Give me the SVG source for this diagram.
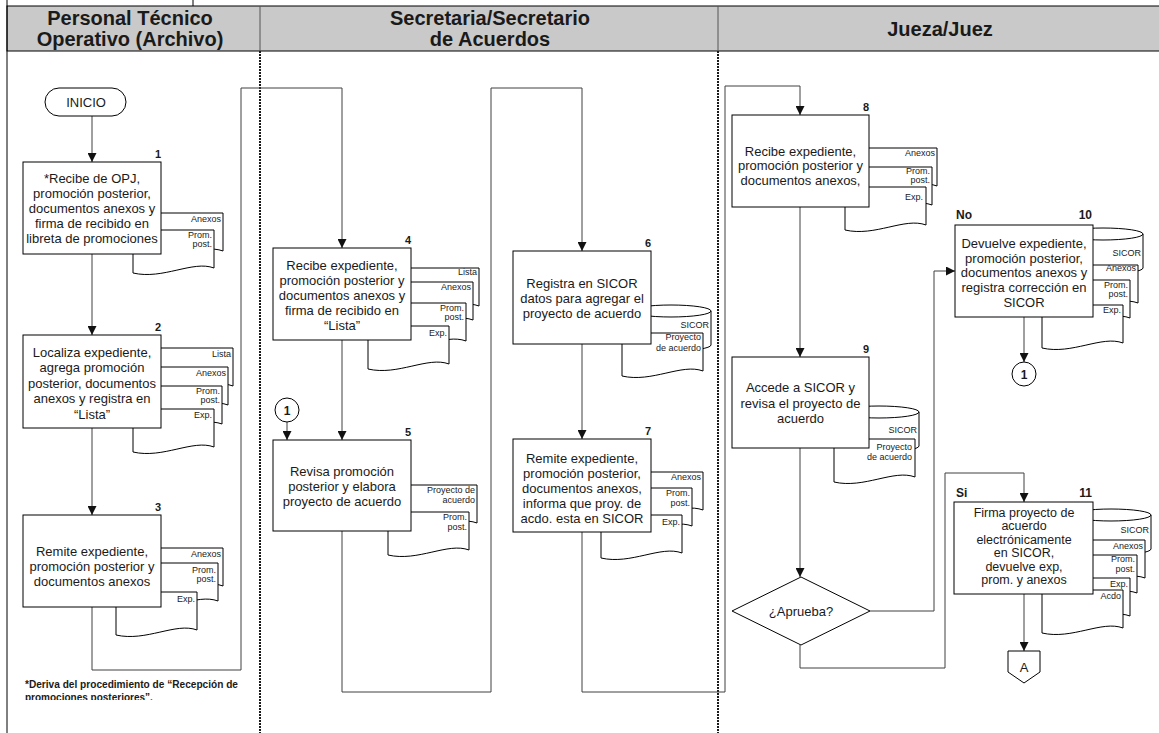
<svg xmlns="http://www.w3.org/2000/svg" xmlns:xlink="http://www.w3.org/1999/xlink" width="1159" height="733" viewBox="0 0 1159 733">
  <style>
    text { font-family: "Liberation Sans", Arial, sans-serif; fill: #1a1a1a; }
    .hdr { font-size: 20px; font-weight: bold; text-anchor: middle; }
    .t { font-size: 13px; text-anchor: middle; }
    .ts { font-size: 12.5px; text-anchor: middle; }
    .lbl { font-size: 9px; text-anchor: end; }
    .num { font-size: 11px; font-weight: bold; text-anchor: end; }
    .tag { font-size: 12px; font-weight: bold; }
    .note { font-size: 10px; font-weight: bold; }
    .box { fill: #fff; stroke: #000; stroke-width: 1; }
    .doc { fill: #fff; stroke: #000; stroke-width: 1; }
    .conn { fill: none; stroke: #404040; stroke-width: 1; }
    .lane { stroke: #1a1a1a; stroke-width: 2; stroke-dasharray: 2 1; }
  </style>
  <defs>
    <marker id="arr" viewBox="0 0 10 10" refX="10" refY="5" markerWidth="9" markerHeight="9" markerUnits="userSpaceOnUse" orient="auto">
      <path d="M0 0 L10 5 L0 10 Z" fill="#111"/>
    </marker>
    <!-- paper document with wavy bottom -->
    <path id="doc" d="M0 0 H81 V38 C60 30 30 50 0 43 Z"/>
    <!-- database cylinder -->
    <path id="db" d="M0 6 A40 6 0 0 1 80 6 V40 A40 6 0 0 1 0 40 Z M0 6 A40 6 0 0 0 80 6"/>
    <clipPath id="noteClip"><rect x="0" y="0" width="260" height="700"/></clipPath>
  </defs>

  <!-- frame and swimlane header -->
  <g id="frame">
    <line x1="193" y1="0" x2="193" y2="6" stroke="#000"/>
    <rect x="7" y="6" width="1160" height="45" fill="#c9c9c9" stroke="#000"/>
    <line x1="260" y1="6" x2="260" y2="51" stroke="#555"/>
    <line x1="718" y1="6" x2="718" y2="51" stroke="#555"/>
    <line x1="7" y1="0" x2="7" y2="733" stroke="#000"/>
    <line class="lane" x1="260" y1="51" x2="260" y2="733"/>
    <line class="lane" x1="718" y1="51" x2="718" y2="733"/>
    <text class="hdr" x="130" y="25">Personal Técnico</text>
    <text class="hdr" x="130" y="46">Operativo (Archivo)</text>
    <text class="hdr" x="490" y="25">Secretaria/Secretario</text>
    <text class="hdr" x="490" y="46">de Acuerdos</text>
    <text class="hdr" x="940" y="36">Jueza/Juez</text>
  </g>

  <!-- connectors -->
  <g id="connectors">
    <path class="conn" d="M92 116 V162" marker-end="url(#arr)"/>
    <path class="conn" d="M92 254 V335" marker-end="url(#arr)"/>
    <path class="conn" d="M92 428 V515" marker-end="url(#arr)"/>
    <path class="conn" d="M92 607 V670 H241 V88 H342 V248" marker-end="url(#arr)"/>
    <path class="conn" d="M342 340 V440" marker-end="url(#arr)"/>
    <path class="conn" d="M287 422 V440" marker-end="url(#arr)"/>
    <path class="conn" d="M342 531 V692 H491 V88 H582 V251" marker-end="url(#arr)"/>
    <path class="conn" d="M582 344 V439" marker-end="url(#arr)"/>
    <path class="conn" d="M582 532 V692 H725 V86 H800 V115" marker-end="url(#arr)"/>
    <path class="conn" d="M800 207 V357" marker-end="url(#arr)"/>
    <path class="conn" d="M800 448 V577" marker-end="url(#arr)"/>
    <path class="conn" d="M870 611 H934 V271 H955" marker-end="url(#arr)"/>
    <path class="conn" d="M800 645 V668 H945 V473 H1024 V502" marker-end="url(#arr)"/>
    <path class="conn" d="M1024 317 V362" marker-end="url(#arr)"/>
    <path class="conn" d="M1024 594 V651" marker-end="url(#arr)"/>
  </g>

  <g id="inicio">
    <rect class="box" x="45" y="88" width="81" height="28" rx="14" ry="14"/>
    <text class="t" x="86" y="107">INICIO</text>
  </g>

  <g id="step1">
    <use href="#doc" class="doc" x="142" y="213"/>
    <use href="#doc" class="doc" x="133" y="230"/>
    <text class="lbl" x="221" y="222">Anexos</text>
    <text class="lbl" x="212" y="238">Prom.</text>
    <text class="lbl" x="212" y="247">post.</text>
    <rect class="box" x="23" y="162" width="138" height="92"/>
    <text class="num" x="161" y="158">1</text>
    <text class="t" x="92" y="182.5">*Recibe de OPJ,</text>
    <text class="t" x="92" y="197.7">promoción posterior,</text>
    <text class="t" x="92" y="212.9">documentos anexos y</text>
    <text class="t" x="92" y="228.1">firma de recibido en</text>
    <text class="t" x="92" y="243.3">libreta de promociones</text>
  </g>

  <g id="step2">
    <use href="#doc" class="doc" x="152" y="348"/>
    <use href="#doc" class="doc" x="147" y="367"/>
    <use href="#doc" class="doc" x="141" y="386"/>
    <use href="#doc" class="doc" x="133" y="409"/>
    <text class="lbl" x="231" y="357">Lista</text>
    <text class="lbl" x="226" y="376">Anexos</text>
    <text class="lbl" x="220" y="394">Prom.</text>
    <text class="lbl" x="220" y="403">post.</text>
    <text class="lbl" x="212" y="418">Exp.</text>
    <rect class="box" x="23" y="335" width="138" height="93"/>
    <text class="num" x="161" y="331">2</text>
    <text class="t" x="92" y="356.5">Localiza expediente,</text>
    <text class="t" x="92" y="372">agrega promoción</text>
    <text class="t" x="92" y="387.5">posterior, documentos</text>
    <text class="t" x="92" y="403">anexos y registra en</text>
    <text class="t" x="92" y="418.5">“Lista”</text>
  </g>

  <g id="step3">
    <use href="#doc" class="doc" x="142" y="548"/>
    <use href="#doc" class="doc" x="137" y="563"/>
    <use href="#doc" class="doc" x="116" y="592"/>
    <text class="lbl" x="221" y="557">Anexos</text>
    <text class="lbl" x="216" y="573">Prom.</text>
    <text class="lbl" x="216" y="582">post.</text>
    <text class="lbl" x="195" y="602">Exp.</text>
    <rect class="box" x="23" y="515" width="138" height="92"/>
    <text class="num" x="161" y="511">3</text>
    <text class="t" x="92" y="556">Remite expediente,</text>
    <text class="t" x="92" y="571">promoción posterior y</text>
    <text class="t" x="92" y="586">documentos anexos</text>
  </g>

  <g id="footnote" clip-path="url(#noteClip)">
    <text class="note" x="25" y="688" textLength="213" lengthAdjust="spacingAndGlyphs">*Deriva del procedimiento de “Recepción de</text>
    <text class="note" x="25" y="701">promociones posteriores”.</text>
  </g>

  <g id="step4">
    <use href="#doc" class="doc" x="398" y="268"/>
    <use href="#doc" class="doc" x="392" y="282"/>
    <use href="#doc" class="doc" x="385" y="303"/>
    <use href="#doc" class="doc" x="368" y="326"/>
    <text class="lbl" x="477" y="275">Lista</text>
    <text class="lbl" x="471" y="290">Anexos</text>
    <text class="lbl" x="464" y="311">Prom.</text>
    <text class="lbl" x="464" y="320">post.</text>
    <text class="lbl" x="447" y="336">Exp.</text>
    <rect class="box" x="273" y="248" width="138" height="92"/>
    <text class="num" x="411" y="244">4</text>
    <text class="t" x="342" y="269.5">Recibe expediente,</text>
    <text class="t" x="342" y="284.5">promoción posterior y</text>
    <text class="t" x="342" y="299.5">documentos anexos y</text>
    <text class="t" x="342" y="314.5">firma de recibido en</text>
    <text class="t" x="342" y="329.5">“Lista”</text>
  </g>

  <g id="conector1a">
    <circle class="box" cx="287" cy="410" r="12"/>
    <text class="tag" x="287" y="414.5" text-anchor="middle">1</text>
  </g>

  <g id="step5">
    <use href="#doc" class="doc" x="396" y="485"/>
    <use href="#doc" class="doc" x="388" y="512"/>
    <text class="lbl" x="475" y="493">Proyecto de</text>
    <text class="lbl" x="475" y="503">acuerdo</text>
    <text class="lbl" x="467" y="520">Prom.</text>
    <text class="lbl" x="467" y="530">post.</text>
    <rect class="box" x="273" y="440" width="138" height="91"/>
    <text class="num" x="411" y="436">5</text>
    <text class="t" x="342" y="476">Revisa promoción</text>
    <text class="t" x="342" y="491">posterior y elabora</text>
    <text class="t" x="342" y="506">proyecto de acuerdo</text>
  </g>

  <g id="step6">
    <use href="#db" class="doc" x="631" y="305"/>
    <use href="#doc" class="doc" x="622" y="333"/>
    <text class="lbl" x="709" y="328">SICOR</text>
    <text class="lbl" x="701" y="340">Proyecto</text>
    <text class="lbl" x="701" y="351">de acuerdo</text>
    <rect class="box" x="513" y="251" width="138" height="93"/>
    <text class="num" x="651" y="247">6</text>
    <text class="t" x="582" y="288">Registra en SICOR</text>
    <text class="t" x="582" y="303">datos para agregar el</text>
    <text class="t" x="582" y="318">proyecto de acuerdo</text>
  </g>

  <g id="step7">
    <use href="#doc" class="doc" x="622" y="472"/>
    <use href="#doc" class="doc" x="611" y="488"/>
    <use href="#doc" class="doc" x="601" y="515"/>
    <text class="lbl" x="701" y="480">Anexos</text>
    <text class="lbl" x="690" y="496">Prom.</text>
    <text class="lbl" x="690" y="506">post.</text>
    <text class="lbl" x="680" y="525">Exp.</text>
    <rect class="box" x="513" y="439" width="138" height="93"/>
    <text class="num" x="651" y="435">7</text>
    <text class="t" x="582" y="463">Remite expediente,</text>
    <text class="t" x="582" y="478">promoción posterior,</text>
    <text class="t" x="582" y="493">documentos anexos,</text>
    <text class="t" x="582" y="508">informa que proy. de</text>
    <text class="t" x="582" y="523">acdo. esta en SICOR</text>
  </g>

  <g id="step8">
    <use href="#doc" class="doc" x="856" y="148"/>
    <use href="#doc" class="doc" x="851" y="167"/>
    <use href="#doc" class="doc" x="845" y="187"/>
    <text class="lbl" x="935" y="156">Anexos</text>
    <text class="lbl" x="930" y="174">Prom.</text>
    <text class="lbl" x="930" y="183">post.</text>
    <text class="lbl" x="923" y="200">Exp.</text>
    <rect class="box" x="732" y="115" width="137" height="92"/>
    <text class="num" x="869" y="111">8</text>
    <text class="t" x="800.5" y="155.5">Recibe expediente,</text>
    <text class="t" x="800.5" y="170">promoción posterior y</text>
    <text class="t" x="800.5" y="184.5">documentos anexos,</text>
  </g>

  <g id="step9">
    <use href="#db" class="doc" x="839" y="406"/>
    <use href="#doc" class="doc" x="834" y="439"/>
    <text class="lbl" x="917" y="433">SICOR</text>
    <text class="lbl" x="912" y="450">Proyecto</text>
    <text class="lbl" x="912" y="460">de acuerdo</text>
    <rect class="box" x="732" y="357" width="137" height="91"/>
    <text class="num" x="869" y="353">9</text>
    <text class="t" x="800.5" y="392">Accede a SICOR y</text>
    <text class="t" x="800.5" y="407.5">revisa el proyecto de</text>
    <text class="t" x="800.5" y="423">acuerdo</text>
  </g>

  <g id="decision">
    <path class="box" d="M801 577 L870 611 L801 645 L732 611 Z"/>
    <text class="t" x="801" y="615.5">¿Aprueba?</text>
  </g>

  <g id="step10">
    <use href="#db" class="doc" x="1063" y="228"/>
    <use href="#doc" class="doc" x="1057" y="265"/>
    <use href="#doc" class="doc" x="1049" y="280"/>
    <use href="#doc" class="doc" x="1042" y="305"/>
    <text class="lbl" x="1141" y="256">SICOR</text>
    <text class="lbl" x="1136" y="271">Anexos</text>
    <text class="lbl" x="1128" y="288">Prom.</text>
    <text class="lbl" x="1128" y="297">post.</text>
    <text class="lbl" x="1121" y="313">Exp.</text>
    <rect class="box" x="955" y="225" width="138" height="92"/>
    <text class="tag" x="956" y="219">No</text>
    <text class="num" x="1092" y="219" style="font-size:12px">10</text>
    <text class="t" x="1024" y="247.5">Devuelve expediente,</text>
    <text class="t" x="1024" y="262.5">promoción posterior,</text>
    <text class="t" x="1024" y="277">documentos anexos y</text>
    <text class="t" x="1024" y="291.5">registra corrección en</text>
    <text class="t" x="1024" y="306.5">SICOR</text>
  </g>

  <g id="conector1b">
    <circle class="box" cx="1024" cy="374" r="12"/>
    <text class="tag" x="1024" y="378.5" text-anchor="middle">1</text>
  </g>

  <g id="step11">
    <use href="#db" class="doc" x="1071" y="509"/>
    <use href="#doc" class="doc" x="1064" y="540"/>
    <use href="#doc" class="doc" x="1056" y="555"/>
    <use href="#doc" class="doc" x="1049" y="578"/>
    <use href="#doc" class="doc" x="1042" y="590"/>
    <text class="lbl" x="1149" y="533">SICOR</text>
    <text class="lbl" x="1143" y="549">Anexos</text>
    <text class="lbl" x="1135" y="562">Prom.</text>
    <text class="lbl" x="1135" y="572">post.</text>
    <text class="lbl" x="1128" y="587">Exp.</text>
    <text class="lbl" x="1121" y="599">Acdo</text>
    <rect class="box" x="954" y="502" width="139" height="92"/>
    <text class="tag" x="956" y="497">Si</text>
    <text class="num" x="1092" y="497" style="font-size:12px">11</text>
    <text class="ts" x="1024" y="516.5">Firma proyecto de</text>
    <text class="ts" x="1024" y="530">acuerdo</text>
    <text class="ts" x="1024" y="543.5">electrónicamente</text>
    <text class="ts" x="1024" y="557">en SICOR,</text>
    <text class="ts" x="1024" y="570.5">devuelve exp,</text>
    <text class="ts" x="1024" y="584">prom. y anexos</text>
  </g>

  <g id="conectorA">
    <path class="box" d="M1008 651 H1040 V672 L1024 683 L1008 672 Z"/>
    <text class="t" x="1024" y="672">A</text>
  </g>
</svg>
